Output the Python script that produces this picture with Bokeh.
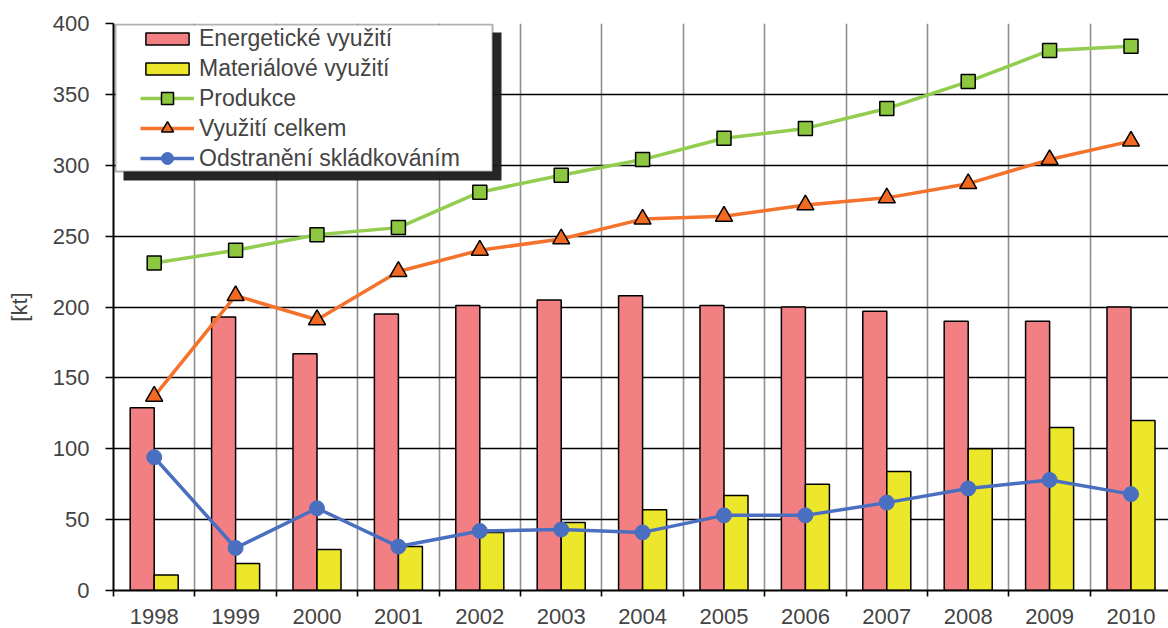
from bokeh.plotting import figure
from bokeh.models import (Range1d, FixedTicker, Legend, LegendItem, BoxAnnotation)
from bokeh.embed import file_html
from bokeh.resources import INLINE

years = ["1998", "1999", "2000", "2001", "2002", "2003", "2004",
         "2005", "2006", "2007", "2008", "2009", "2010"]
energeticke = [129, 193, 167, 195, 201, 205, 208, 201, 200, 197, 190, 190, 200]
materialove = [11, 19, 29, 31, 41, 48, 57, 67, 75, 84, 100, 115, 120]
produkce = [231, 240, 251, 256, 281, 293, 304, 319, 326, 340, 359, 381, 384]
vyuziti = [137, 208, 191, 225, 240, 248, 262, 264, 272, 277, 287, 304, 317]
odstraneni = [94, 30, 58, 31, 42, 43, 41, 53, 53, 62, 72, 78, 68]
y_ticks = [0, 50, 100, 150, 200, 250, 300, 350, 400]

FONT = "Liberation Sans"
RED = "#F28083"
YELLOW = "#EDE72C"
GREEN_L = "#92CD4F"
GREEN_F = "#8DC63F"
ORANGE = "#F4722B"
ORANGE_F = "#F26A22"
BLUE = "#4A6FC0"

n = len(years)
xs = list(range(n))

W, H = 1168, 628
BL, BT, BB = 113, 23, 38
frame_w = W - BL
frame_h = H - BT - BB
cat_px = 81.4
x_end = -0.5 + frame_w / cat_px

p = figure(width=W, height=H, output_backend="svg", toolbar_location=None,
           x_range=Range1d(-0.5, x_end), y_range=Range1d(0, 400),
           min_border_left=BL, min_border_right=0, min_border_top=BT,
           min_border_bottom=BB)
p.outline_line_color = None
p.background_fill_color = "white"

# grids
p.ygrid.ticker = FixedTicker(ticks=y_ticks)
p.ygrid.grid_line_color = "black"
p.ygrid.grid_line_width = 1.6
p.xgrid.ticker = FixedTicker(ticks=[i + 0.5 for i in range(-1, n)])
p.xgrid.grid_line_color = "#8f8f8f"
p.xgrid.grid_line_width = 1.6

# axes
p.yaxis.ticker = FixedTicker(ticks=y_ticks)
p.yaxis.axis_label = "[kt]"
p.yaxis.axis_label_text_font = FONT
p.yaxis.axis_label_text_font_size = "22px"
p.yaxis.axis_label_text_font_style = "normal"
p.yaxis.axis_label_standoff = 18
p.yaxis.major_label_text_font = FONT
p.yaxis.major_label_text_font_size = "22px"
p.yaxis.major_label_standoff = 16
p.yaxis.major_tick_out = 8
p.yaxis.major_tick_in = 0
p.yaxis.minor_tick_line_color = None
p.yaxis.axis_line_width = 2
p.yaxis.major_tick_line_width = 1.6

p.xaxis.ticker = FixedTicker(ticks=xs, minor_ticks=[i - 0.5 for i in range(n + 1)])
p.xaxis.major_label_overrides = {i: years[i] for i in xs}
p.xaxis.major_label_text_font = FONT
p.xaxis.major_label_text_font_size = "22px"
p.xaxis.major_label_standoff = 12
p.xaxis.major_tick_out = 0
p.xaxis.major_tick_in = 0
p.xaxis.minor_tick_out = 6
p.xaxis.minor_tick_in = 0
p.xaxis.minor_tick_line_color = "black"
p.xaxis.minor_tick_line_width = 1.6
p.xaxis.axis_line_width = 2

# bars
bw = 0.295
r_en = p.vbar(x=[x - bw / 2 for x in xs], top=energeticke, width=bw, bottom=0,
              fill_color=RED, line_color="black", line_width=1.5)
r_ma = p.vbar(x=[x + bw / 2 for x in xs], top=materialove, width=bw, bottom=0,
              fill_color=YELLOW, line_color="black", line_width=1.5)

# lines
l_pr = p.line(xs, produkce, line_color=GREEN_L, line_width=3.5)
m_pr = p.scatter(xs, produkce, marker="square", size=14, fill_color=GREEN_F,
                 line_color="black", line_width=1.5)
l_vy = p.line(xs, vyuziti, line_color=ORANGE, line_width=3.5)
m_vy = p.scatter(xs, vyuziti, marker="triangle", size=17, fill_color=ORANGE_F,
                 line_color="black", line_width=1.5)
l_od = p.line(xs, odstraneni, line_color=BLUE, line_width=3.5)
m_od = p.scatter(xs, odstraneni, marker="circle", size=15, fill_color=BLUE,
                 line_color=BLUE)

# legend box with shadow (screen units relative to the frame, y from bottom)
scr = dict(left_units="screen", right_units="screen",
           top_units="screen", bottom_units="screen", level="annotation")
shadow = BoxAnnotation(left=10, right=388, top=frame_h - 9, bottom=frame_h - 157,
                       fill_color="#1a1a1a", fill_alpha=0.95, line_color=None, **scr)
box = BoxAnnotation(left=2, right=379, top=frame_h - 1, bottom=frame_h - 148,
                    fill_color="white", fill_alpha=1.0, line_color="black",
                    line_width=2, **scr)
p.add_layout(shadow)
p.add_layout(box)

item_h = 30
leg_common = dict(background_fill_alpha=0, border_line_color=None, padding=0,
                  margin=0, spacing=0, label_height=item_h, glyph_width=54,
                  label_standoff=5, label_text_font=FONT,
                  label_text_font_size="23px")
leg1 = Legend(items=[LegendItem(label="Energetické využití", renderers=[r_en]),
                     LegendItem(label="Materiálové využití", renderers=[r_ma])],
              location=(27, frame_h - 2 * item_h), glyph_height=15, **leg_common)
leg2 = Legend(items=[LegendItem(label="Produkce", renderers=[l_pr, m_pr]),
                     LegendItem(label="Využití celkem", renderers=[l_vy, m_vy]),
                     LegendItem(label="Odstranění skládkováním", renderers=[l_od, m_od])],
              location=(27, frame_h - 5 * item_h), glyph_height=30, **leg_common)
p.add_layout(leg1)
p.add_layout(leg2)

open("out.html", "w").write(file_html(p, INLINE))
